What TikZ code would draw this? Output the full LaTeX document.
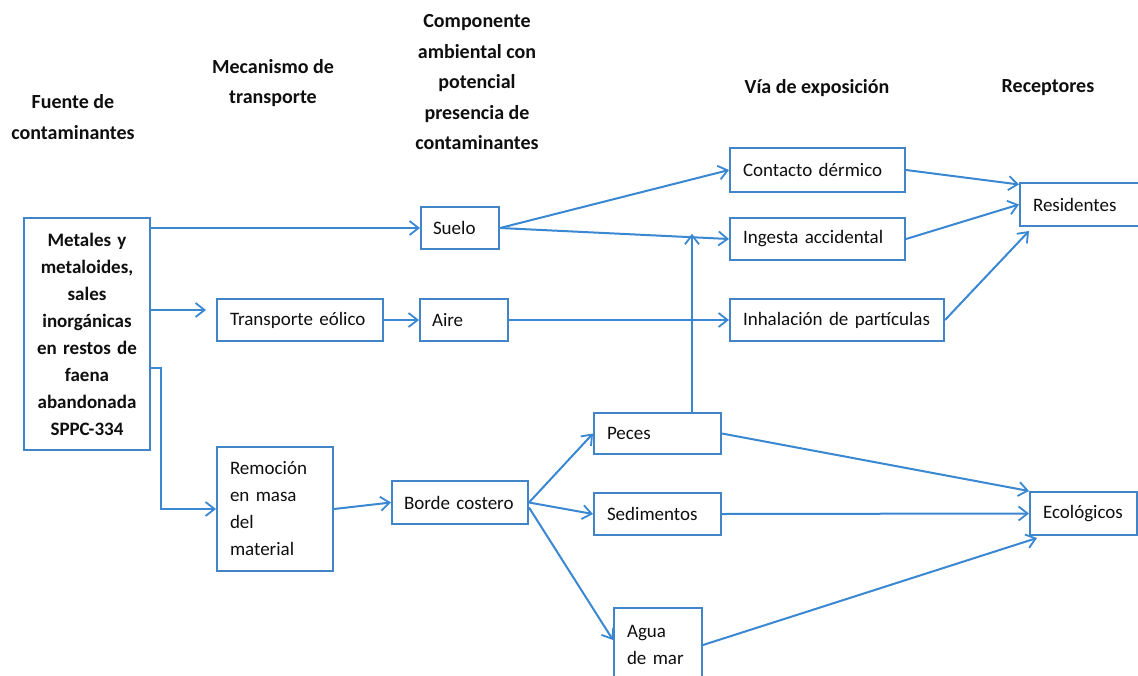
\documentclass[tikz,border=0pt]{standalone}
\usepackage{fontspec}
\setmainfont{Carlito}
\usetikzlibrary{arrows.meta,calc}
\definecolor{lnblue}{RGB}{58,136,210}
\definecolor{bxblue}{RGB}{66,132,200}
\definecolor{txt}{RGB}{15,15,15}
\tikzset{
  box/.style={draw=bxblue, line width=2pt, inner ysep=0pt, inner xsep=13pt, align=left,
    text=txt, font=\fontsize{19pt}{27pt}\selectfont},
  hdr/.style={align=center, text=txt, font=\fontsize{20pt}{30.5pt}\selectfont\bfseries},
  arr/.style={draw=lnblue, line width=2pt, -{Straight Barb[length=9pt,width=14pt,line width=1.8pt]}},
  ln/.style={draw=lnblue, line width=2pt}
}
\begin{document}
\begin{tikzpicture}[x=1pt,y=-1pt]
\useasboundingbox (0,0) rectangle (1138,675);
\clip (0,0) rectangle (1138,675);
\fill[white] (0,0) rectangle (1138,675);

% headers
\node[hdr] (h1) at (73,117) {Fuente de\\contaminantes};
\node[hdr] (h2) at (273,83) {Mecanismo de\\transporte};
\node[hdr] (h3) at (477,82.5) {Componente\\ambiental con\\potencial\\presencia de\\contaminantes};
\node[hdr] (h4) at (817,88) {Vía de exposición};
\node[hdr] (h5) at (1048,88) {Receptores};

% boxes
\node[box, align=center, inner xsep=8pt, text width=110pt, minimum height=232pt,
      font=\fontsize{19pt}{27pt}\selectfont\bfseries] (m) at (87,334)
  {Metales y\\metaloides,\\sales\\inorgánicas\\en restos de\\faena\\abandonada\\SPPC-334};
\node[box, text width=140pt, minimum height=42pt] (t) at (300,320) {Transporte eólico};
\node[box, text width=90pt, minimum height=124pt] (r) at (275,509) {Remoción\\en masa\\del\\material};
\node[box, inner xsep=12pt, text width=54pt, minimum height=42pt] (s) at (460,228) {Suelo};
\node[box, inner xsep=12pt, text width=64pt, minimum height=42pt] (a) at (464,320) {Aire};
\node[box, inner xsep=12pt, text width=112pt, minimum height=43pt] (b) at (460,502.5) {Borde costero};
\node[box, text width=149pt, minimum height=44pt] (c) at (817.5,170) {Contacto dérmico};
\node[box, text width=149pt, minimum height=42pt] (ig) at (817.5,239) {Ingesta accidental};
\node[box, text width=188pt, minimum height=42pt] (i) at (837,320) {Inhalación de partículas};
\node[box, text width=101pt, minimum height=41pt] (p) at (657.5,433.5) {Peces};
\node[box, text width=101pt, minimum height=42pt] (sd) at (657.5,514) {Sedimentos};
\node[box, text width=62pt, minimum height=74pt] (ag) at (658,645) {Agua\\de mar};
\node[box, text width=104pt, minimum height=43pt] (re) at (1085,204.5) {Residentes};
\node[box, text width=81pt, minimum height=43pt] (e) at (1083.5,513.5) {Ecológicos};

% connectors
\draw[arr] (s.west -| m.east) -- (s.west);
\draw[arr] ([yshift=10pt]t.west -| m.east) -- ([xshift=-10pt,yshift=10pt]t.west);
\draw[arr] ([yshift=-34pt]m.east) -- ++(10,0) |- (r.west);
\draw[arr] (t.east) -- (a.west);
\draw[arr] (a.east) -- (i.west);
\draw[arr] (s.east) -- (c.west);
\draw[arr] (s.east) -- (ig.west);
\coordinate (j) at ($(s.east)!0.80!(ig.west)$);
\draw[arr] ([xshift=34.5pt]p.north) -- ([xshift=34.5pt,yshift=3pt]p.north |- j);
\draw[arr] (c.east) -- ([yshift=20pt]re.west);
\draw[arr] (ig.east) -- (re.west);
\draw[arr] (i.east) -- ([xshift=10pt,yshift=-4pt]re.south west);
\draw[arr] (r.east) -- (b.west);
\draw[arr] (b.east) -- (p.west);
\draw[arr] (b.east) -- (sd.west);
\draw[arr] ([yshift=-5pt]b.east) -- ([yshift=5pt]ag.west);
\draw[arr] (p.east) -- (e.north west);
\draw[arr] (sd.east) -- (e.west);
\draw[arr] (ag.east) -- ([xshift=8pt,yshift=-2pt]e.south west);
\end{tikzpicture}
\end{document}
